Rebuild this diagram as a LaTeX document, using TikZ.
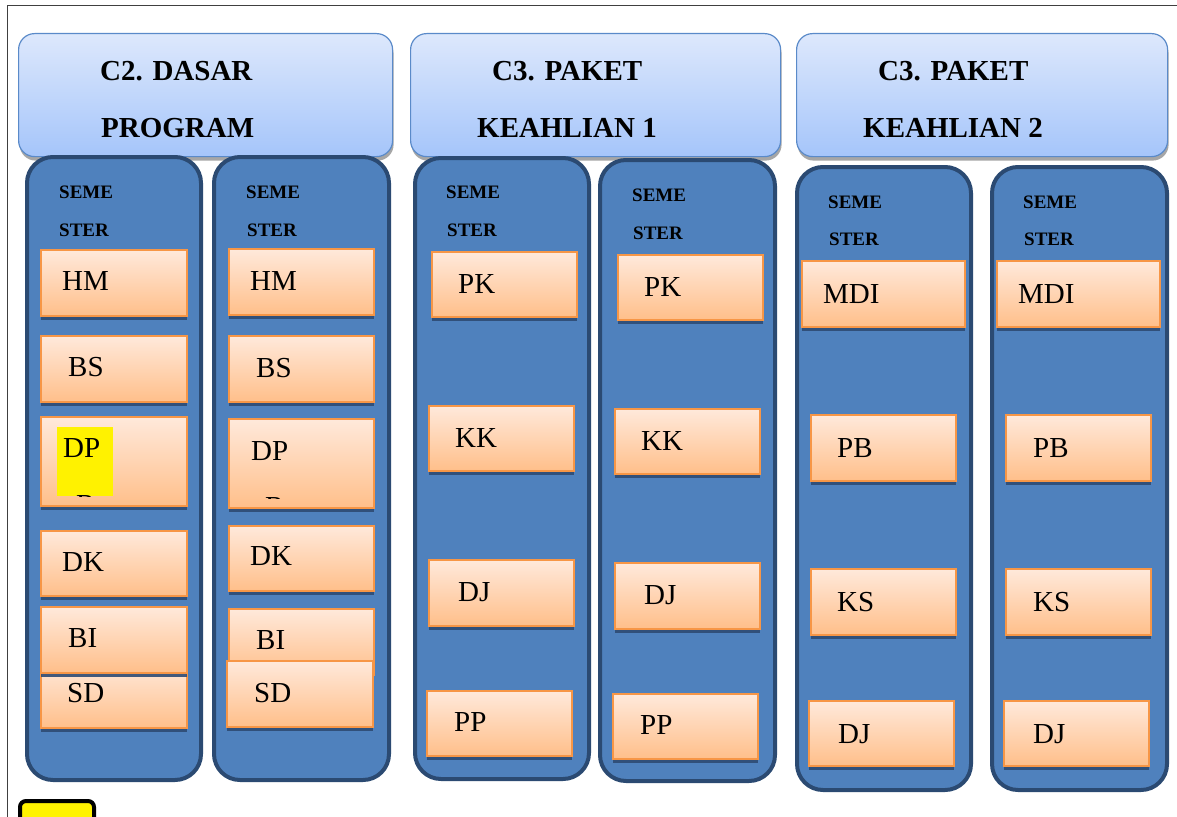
\documentclass[tikz,border=0pt]{standalone}
\usepackage{fontspec}
\setmainfont{Liberation Serif}
\usetikzlibrary{shadows}
\definecolor{colfill}{HTML}{4F81BD}
\definecolor{colline}{HTML}{2B4A72}
\definecolor{hdtop}{HTML}{DDE8FC}
\definecolor{hdbot}{HTML}{A5C5FA}
\definecolor{hdline}{HTML}{5A8AC9}
\definecolor{bxtop}{HTML}{FFE9DB}
\definecolor{bxbot}{HTML}{FFBF8A}
\definecolor{bxline}{HTML}{F79646}
\definecolor{bxshadow}{HTML}{2E4B73}
\tikzset{
 hdr/.style={draw=hdline, line width=1.2pt, rounded corners=16pt, top color=hdtop, bottom color=hdbot,
   drop shadow={shadow xshift=1pt, shadow yshift=-4pt, fill=gray!70, opacity=1}, anchor=north west, inner sep=0pt},
 colbox/.style={draw=colline, line width=4pt, fill=colfill, rounded corners=26pt, anchor=north west, inner sep=0pt},
 obox/.style={draw=bxline, line width=1.8pt, top color=bxtop, bottom color=bxbot, anchor=north west, inner sep=0pt,
   drop shadow={shadow xshift=0pt, shadow yshift=-4pt, fill=bxshadow, opacity=0.9}},
 lbl/.style={anchor=base west, inner sep=0pt, font=\fontsize{29}{30}\selectfont},
 hlbl/.style={anchor=base west, inner sep=0pt, font=\bfseries\fontsize{29}{31}\selectfont},
 sem/.style={anchor=base west, inner sep=0pt, font=\bfseries\fontsize{19}{20}\selectfont},
}
\newcommand\ob[8]{%
  \node[obox, minimum width=#4-2, minimum height=#5-2] (#1) at (#2,#3) {};
  \node[lbl] (#1-t) at (#6,#7) {#8};}
\newcommand\cb[5]{%
  \node[colbox, minimum width=#4-4, minimum height=#5-4] (#1) at (#2,#3) {};}
\newcommand\sm[5]{%
  \node[sem] (#1-a) at (#2,#3) {SEME};
  \node[sem] (#1-b) at (#4,#5) {STER};}
\begin{document}
\begin{tikzpicture}[x=1pt,y=-1pt]
\useasboundingbox (0,0) rectangle (1177,816);
\clip (0,0) rectangle (1177,816);
\fill[white] (0,0) rectangle (1177,816);
\draw[line width=1.3pt, draw=black!75] (7.5,5.5) rectangle (1220,860);
% headers
\node[hdr, minimum width=374, minimum height=123] (h1) at (18,33) {};
\node[hdr, minimum width=370, minimum height=123] (h2) at (410,33) {};
\node[hdr, minimum width=371, minimum height=123] (h3) at (796,33) {};
\node[hlbl] (h1a) at (100,80) {C2. DASAR};
\node[hlbl] (h1b) at (101,137) {PROGRAM};
\node[hlbl] (h2a) at (492,80) {C3. PAKET};
\node[hlbl] (h2b) at (477,137) {KEAHLIAN 1};
\node[hlbl] (h3a) at (878,80) {C3. PAKET};
\node[hlbl] (h3b) at (863,137) {KEAHLIAN 2};
% columns
\cb{c1}{25}{155}{178}{627}
\cb{c2}{212}{155}{179}{627}
\cb{c3}{413}{156}{178}{625}
\cb{c4}{598}{158}{179}{625}
\cb{c5}{795}{165}{178}{627}
\cb{c6}{990}{165}{179}{627}
\sm{s1}{59}{198}{59}{236}
\sm{s2}{246}{198}{247}{236}
\sm{s3}{446}{198}{447}{236}
\sm{s4}{632}{201}{633}{239}
\sm{s5}{828}{208}{829}{245}
\sm{s6}{1023}{208}{1024}{245}
% column 1
\ob{hm1}{40}{249}{148}{68}{62}{290}{HM}
\ob{bs1}{40}{335}{148}{68}{68}{376}{BS}
\node[obox, minimum width=146, minimum height=89] (dp1) at (40,416) {};
\fill[yellow] (57,427) rectangle (113,496);
\node[lbl] (dp1-t) at (63,457) {DP};
\begin{scope}
\clip (50,420) rectangle (130,496.5);
\node[lbl] (dp1-u) at (76,514) {R};
\end{scope}
\ob{dk1}{40}{530}{148}{67}{62}{571}{DK}
\ob{sd1}{40}{662}{148}{67}{67}{702}{SD}
\ob{bi1}{40}{606}{148}{68}{68}{647}{BI}
% column 2
\ob{hm2}{228}{248}{147}{68}{250}{290}{HM}
\ob{bs2}{228}{335}{147}{68}{256}{377}{BS}
\node[obox, minimum width=145, minimum height=89] (dp2) at (228,418) {};
\node[lbl] (dp2-t) at (251,460) {DP};
\begin{scope}
\clip (235,420) rectangle (330,498);
\node[lbl] (dp2-u) at (265,516) {R};
\end{scope}
\ob{dk2}{228}{525}{147}{67}{250}{565}{DK}
\ob{bi2}{228}{608}{147}{68}{256}{649}{BI}
\ob{sd2}{226}{660}{148}{68}{254}{702}{SD}
% column 3
\ob{pk3}{431}{251}{147}{67}{458}{293}{PK}
\ob{kk3}{428}{405}{147}{67}{455}{447}{KK}
\ob{dj3}{428}{559}{147}{68}{458}{601}{DJ}
\ob{pp3}{426}{690}{147}{67}{454}{731}{PP}
% column 4
\ob{pk4}{617}{254}{147}{67}{644}{296}{PK}
\ob{kk4}{614}{408}{147}{67}{641}{450}{KK}
\ob{dj4}{614}{562}{147}{68}{644}{604}{DJ}
\ob{pp4}{612}{693}{147}{67}{640}{734}{PP}
% column 5
\ob{md5}{801}{260}{165}{68}{823}{303}{MDI}
\ob{pb5}{810}{414}{147}{68}{837}{457}{PB}
\ob{ks5}{810}{568}{147}{68}{837}{611}{KS}
\ob{dj5}{808}{700}{147}{67}{838}{743}{DJ}
% column 6
\ob{md6}{996}{260}{165}{68}{1018}{303}{MDI}
\ob{pb6}{1005}{414}{147}{68}{1033}{457}{PB}
\ob{ks6}{1005}{568}{147}{68}{1033}{611}{KS}
\ob{dj6}{1003}{700}{147}{67}{1033}{743}{DJ}
% yellow box
\node[draw=black, line width=4pt, fill=yellow, rounded corners=6pt, minimum width=74, minimum height=40, anchor=north west, inner sep=0pt] (ybox) at (18,799) {};
\end{tikzpicture}
\end{document}
